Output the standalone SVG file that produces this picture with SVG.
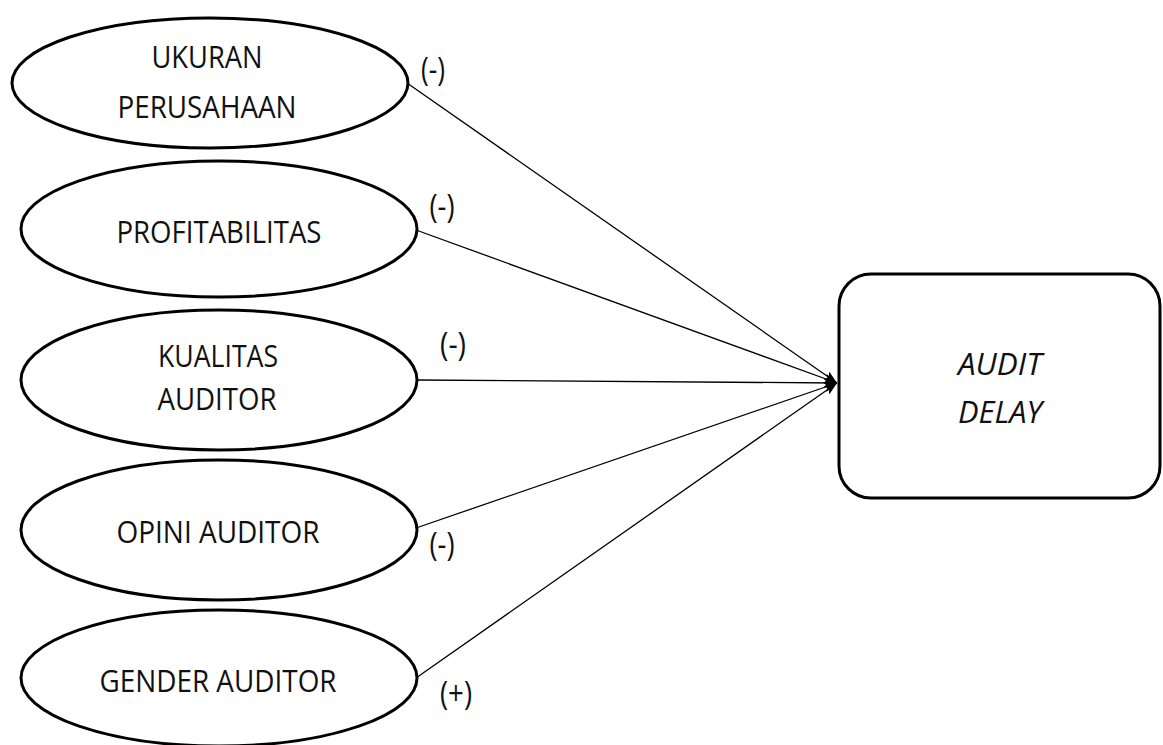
<svg xmlns="http://www.w3.org/2000/svg" width="1163" height="745" viewBox="0 0 1163 745">
<style>
.node ellipse, .node rect { fill: #fff; stroke: #000; stroke-width: 3; }
.t { font-family: "Open Sans", "Liberation Sans", sans-serif; font-size: 31.5px; fill: #111; text-anchor: middle; }
.it { font-style: italic; }
.lbl { font-family: "Open Sans", "Liberation Sans", sans-serif; font-size: 32px; fill: #111; text-anchor: middle; }
.conn line { stroke: #000; stroke-width: 1.3; marker-end: url(#arr); }
</style>
<defs>
<marker id="arr" markerUnits="userSpaceOnUse" markerWidth="14" markerHeight="10" refX="13" refY="5" orient="auto">
<path d="M0,0 L13,5 L0,10 L3,5 Z" fill="#000"/>
</marker>
</defs>
<rect width="1163" height="745" fill="#fff"/>
<g id="connectors" class="conn">
<line x1="407" y1="83" x2="837" y2="383"/>
<line x1="416" y1="230" x2="837" y2="383"/>
<line x1="417" y1="380" x2="837" y2="383"/>
<line x1="416" y1="528" x2="837" y2="383"/>
<line x1="416" y1="678" x2="837" y2="383"/>
</g>
<g id="labels">
<text class="lbl" x="433" y="81" textLength="24" lengthAdjust="spacingAndGlyphs">(-)</text>
<text class="lbl" x="442" y="218" textLength="25" lengthAdjust="spacingAndGlyphs">(-)</text>
<text class="lbl" x="453" y="356" textLength="26" lengthAdjust="spacingAndGlyphs">(-)</text>
<text class="lbl" x="442" y="556" textLength="25" lengthAdjust="spacingAndGlyphs">(-)</text>
<text class="lbl" x="456" y="705" textLength="32" lengthAdjust="spacingAndGlyphs">(+)</text>
</g>
<g id="ukuran" class="node">
<ellipse cx="210" cy="83" rx="198" ry="65"/>
<text class="t" x="207" y="68" textLength="111" lengthAdjust="spacingAndGlyphs">UKURAN</text>
<text class="t" x="207" y="118" textLength="179" lengthAdjust="spacingAndGlyphs">PERUSAHAAN</text>
</g>
<g id="profitabilitas" class="node">
<ellipse cx="219" cy="229" rx="198" ry="68"/>
<text class="t" x="219" y="243" textLength="205" lengthAdjust="spacingAndGlyphs">PROFITABILITAS</text>
</g>
<g id="kualitas" class="node">
<ellipse cx="219" cy="380" rx="198" ry="70"/>
<text class="t" x="218" y="367" textLength="120" lengthAdjust="spacingAndGlyphs">KUALITAS</text>
<text class="t" x="217" y="410" textLength="119" lengthAdjust="spacingAndGlyphs">AUDITOR</text>
</g>
<g id="opini" class="node">
<ellipse cx="219" cy="530" rx="198" ry="70"/>
<text class="t" x="218" y="543" textLength="203" lengthAdjust="spacingAndGlyphs">OPINI AUDITOR</text>
</g>
<g id="gender" class="node">
<ellipse cx="219" cy="678" rx="198" ry="68"/>
<text class="t" x="218" y="692" textLength="237" lengthAdjust="spacingAndGlyphs">GENDER AUDITOR</text>
</g>
<g id="audit-delay" class="node">
<rect x="839" y="274" width="321" height="224" rx="32"/>
<text class="t it" x="1000" y="375" textLength="84" lengthAdjust="spacingAndGlyphs">AUDIT</text>
<text class="t it" x="1000" y="423" textLength="84" lengthAdjust="spacingAndGlyphs">DELAY</text>
</g>
</svg>
